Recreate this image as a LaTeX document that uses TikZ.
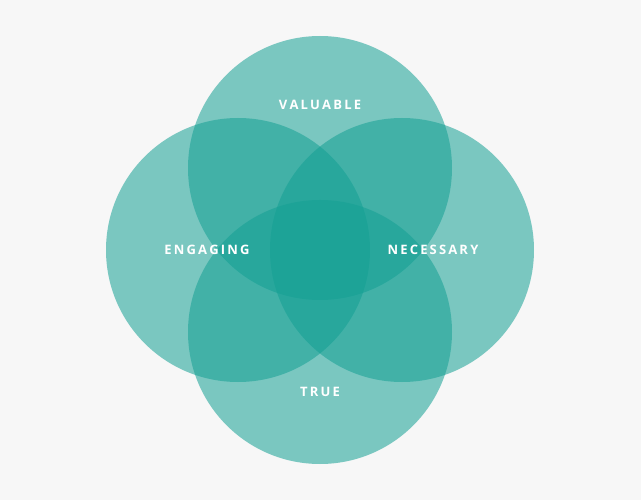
\documentclass[tikz,border=0pt]{standalone}
\usepackage{fontspec}
\setmainfont{Open Sans}
\definecolor{bg}{RGB}{247,247,247}
\definecolor{teal}{RGB}{20,160,148}
\tikzset{circ/.style={fill=teal,fill opacity=0.55,draw=none},
lbl/.style={text=white,font=\bfseries\fontsize{13}{15}\selectfont}}
\begin{document}
\begin{tikzpicture}[x=1pt,y=-1pt]
\fill[bg] (0,0) rectangle (641,500);
\useasboundingbox (0,0) rectangle (641,500);
\fill[circ] (320,168) circle (132);
\fill[circ] (238,250) circle (132);
\fill[circ] (402,250) circle (132);
\fill[circ] (320,332) circle (132);
\node[lbl] (v) at (320,105) {V\,A\,L\,U\,A\,B\,L\,E};
\node[lbl] (e) at (207,250) {E\,N\,G\,A\,G\,I\,N\,G};
\node[lbl] (n) at (433,250) {N\,E\,C\,E\,S\,S\,A\,R\,Y};
\node[lbl] (t) at (320,392) {T\,R\,U\,E};
\end{tikzpicture}
\end{document}
